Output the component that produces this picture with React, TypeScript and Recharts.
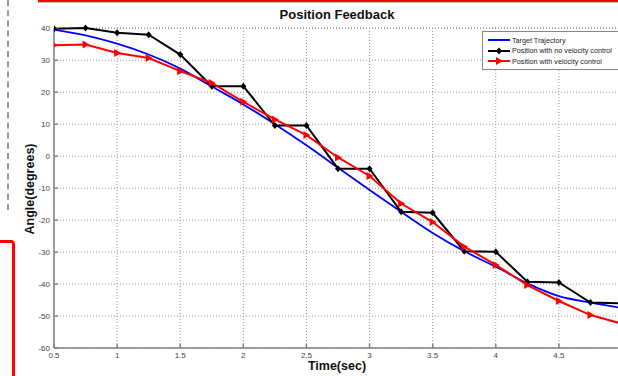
import { LineChart, Line, XAxis, YAxis, CartesianGrid } from "recharts";

const times = [0.5, 0.75, 1, 1.25, 1.5, 1.75, 2, 2.25, 2.5, 2.75, 3, 3.25, 3.5, 3.75, 4, 4.25, 4.5, 4.75, 5];
const target = [39.6, 37.8, 35.2, 31.8, 27.4, 21.8, 16.2, 10.0, 3.4, -3.6, -10.6, -17.4, -24.0, -29.7, -34.6, -39.8, -43.8, -45.8, -47.5];
const noVelocity = [39.9, 40.1, 38.6, 38.0, 31.8, 21.9, 21.9, 9.6, 9.6, -3.9, -3.9, -17.4, -17.7, -29.7, -29.9, -39.3, -39.5, -45.8, -46.0];
const withVelocity = [34.7, 34.9, 32.3, 30.7, 26.6, 22.9, 17.0, 11.5, 6.6, -0.4, -6.2, -14.8, -20.6, -28.3, -34.0, -40.3, -45.3, -49.7, -52.4];

const xTicks = [0.5, 1, 1.5, 2, 2.5, 3, 3.5, 4, 4.5, 5];
const yTicks = [-60, -50, -40, -30, -20, -10, 0, 10, 20, 30, 40];

const seriesNames = ["Target Trajectory", "Position with no velocity control", "Position with velocity control"];

const data = times.map((t, i) => ({
  t,
  target: target[i],
  noVel: noVelocity[i],
  vel: withVelocity[i],
}));

const font = "'Liberation Sans', Arial, sans-serif";

function Diamond(props: any) {
  const { cx, cy } = props;
  if (cx == null || cy == null) return null;
  return <path d={`M${cx},${cy - 3.5}L${cx + 3},${cy}L${cx},${cy + 3.5}L${cx - 3},${cy}Z`} fill="#000" />;
}

function Tri(props: any) {
  const { cx, cy } = props;
  if (cx == null || cy == null) return null;
  return <path d={`M${cx - 3},${cy - 4}L${cx + 4},${cy}L${cx - 3},${cy + 4}Z`} fill="#ff0000" />;
}

function LegendBox() {
  const rows = [
    { name: seriesNames[0], color: "#0000ff", marker: null },
    { name: seriesNames[1], color: "#000", marker: "d" },
    { name: seriesNames[2], color: "#ff0000", marker: "t" },
  ];
  return (
    <div
      style={{
        position: "absolute",
        left: 482,
        top: 31,
        border: "1px solid #888",
        background: "#fff",
        width: 150,
        padding: "3px 0 2px 4px",
        fontFamily: font,
        fontSize: 7.2,
        color: "#222",
      }}
    >
      {rows.map((r) => (
        <div key={r.name} style={{ display: "flex", alignItems: "center", height: 10.5 }}>
          <svg width={24} height={10} style={{ marginRight: 1 }}>
            <line x1={1} y1={5} x2={23} y2={5} stroke={r.color} strokeWidth={2} />
            {r.marker === "d" && <path d="M12,1.5L15,5L12,8.5L9,5Z" fill="#000" />}
            {r.marker === "t" && <path d="M9,1L16,5L9,9Z" fill="#ff0000" />}
          </svg>
          <span style={{ whiteSpace: "nowrap" }}>{r.name}</span>
        </div>
      ))}
    </div>
  );
}

export default function App() {
  return (
    <div
      style={{
        position: "absolute",
        left: 0,
        top: 0,
        width: 618,
        height: 376,
        overflow: "hidden",
        background: "#fff",
      }}
    >
      {/* page decorations around the figure */}
      <div style={{ position: "absolute", left: 38, top: 0, width: 600, height: 2, background: "#ff0000", boxShadow: "0 1px 1px #bbb" }} />
      <div style={{ position: "absolute", left: 7, top: 0, width: 0, height: 210, borderLeft: "2px dashed #999" }} />
      <div
        style={{
          position: "absolute",
          left: -20,
          top: 240,
          width: 29,
          height: 160,
          border: "3px solid #ff0000",
          borderRadius: 4,
        }}
      />

      <div
        style={{
          position: "absolute",
          left: 0,
          top: 7,
          width: 674,
          textAlign: "center",
          fontFamily: font,
          fontWeight: "bold",
          fontSize: 13,
          color: "#111",
        }}
      >
        Position Feedback
      </div>
      <div
        style={{
          position: "absolute",
          left: 0,
          top: 359,
          width: 674,
          textAlign: "center",
          fontFamily: font,
          fontWeight: "bold",
          fontSize: 12.5,
          color: "#111",
        }}
      >
        Time(sec)
      </div>
      <div
        style={{
          position: "absolute",
          left: 30,
          top: 189,
          transform: "translate(-50%, -50%) rotate(-90deg)",
          fontFamily: font,
          fontWeight: "bold",
          fontSize: 12.5,
          color: "#111",
          whiteSpace: "nowrap",
        }}
      >
        Angle(degrees)
      </div>

      <LineChart width={640} height={376} data={data} margin={{ top: 28, right: 18, left: 24, bottom: 14 }}>
        <CartesianGrid stroke="#999" strokeDasharray="1 2" />
        <XAxis
          dataKey="t"
          type="number"
          domain={[0.5, 5]}
          ticks={xTicks}
          interval={0}
          height={14}
          tickSize={-4}
          tickMargin={8}
          stroke="#808080"
          strokeWidth={1.5}
          tick={{ fontSize: 8, fill: "#444", fontFamily: font }}
          tickFormatter={(v: number) => (v === 5 ? "" : String(v))}
          allowDataOverflow
        />
        <YAxis
          type="number"
          domain={[-60, 40]}
          ticks={yTicks}
          interval={0}
          width={30}
          tickSize={-4}
          tickMargin={8}
          stroke="#808080"
          strokeWidth={1.5}
          tick={{ fontSize: 8, fill: "#444", fontFamily: font }}
        />
        <Line
          type="monotone"
          dataKey="target"
          name={seriesNames[0]}
          stroke="#0000ff"
          strokeWidth={1.8}
          dot={false}
          isAnimationActive={false}
        />
        <Line
          type="linear"
          dataKey="noVel"
          name={seriesNames[1]}
          stroke="#000"
          strokeWidth={2}
          dot={<Diamond />}
          isAnimationActive={false}
        />
        <Line
          type="linear"
          dataKey="vel"
          name={seriesNames[2]}
          stroke="#ff0000"
          strokeWidth={2}
          dot={<Tri />}
          isAnimationActive={false}
        />
      </LineChart>
      <LegendBox />
    </div>
  );
}
